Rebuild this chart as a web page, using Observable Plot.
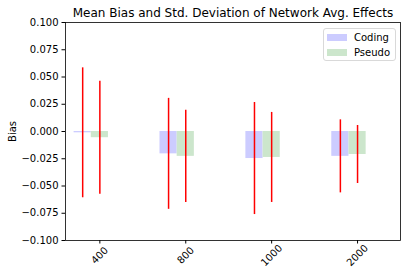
<!DOCTYPE html>
<html>
<head>
<meta charset="utf-8">
<script src="https://cdn.jsdelivr.net/npm/d3@7"></script>
<script src="https://cdn.jsdelivr.net/npm/@observablehq/plot@0.6"></script>
<style>
  html, body { margin: 0; padding: 0; background: #fff; }
  #wrap { position: relative; width: 410px; height: 279px; font-family: "DejaVu Sans", sans-serif; }
  #legend { position: absolute; left: 323px; top: 28px; width: 73px; height: 33px; border: 1px solid #d9d9d9; border-radius: 3px; background: rgba(255,255,255,0.8); font-size: 10px; color: #000; box-sizing: border-box; }
  .li { position: absolute; left: 3px; height: 12px; display: flex; align-items: center; white-space: nowrap; }
  .sw { width: 20px; height: 7px; margin-right: 7px; }
</style>
</head>
<body>
<div id="wrap"></div>
<script>
const categories = ["400", "800", "1000", "2000"];
const codingMean = [-0.0012, -0.0205, -0.0248, -0.0228];
const codingStd  = [0.0596, 0.0509, 0.0514, 0.0335];
const pseudoMean = [-0.0057, -0.0228, -0.0238, -0.0211];
const pseudoStd  = [0.0519, 0.0424, 0.0413, 0.0266];
const yTicks = [-0.1, -0.075, -0.05, -0.025, 0, 0.025, 0.05, 0.075, 0.1];
const seriesNames = ["Coding", "Pseudo"];
const seriesColors = ["#ccccff", "#cce6cc"];

const barWidth = 0.2;
const rows = [];
categories.forEach((c, i) => {
  rows.push({series: "Coding", i, x1: i - 1.5 * barWidth, x2: i - 0.5 * barWidth, xc: i - barWidth, mean: codingMean[i], sd: codingStd[i]});
  rows.push({series: "Pseudo", i, x1: i - 0.5 * barWidth, x2: i + 0.5 * barWidth, xc: i, mean: pseudoMean[i], sd: pseudoStd[i]});
});
const idx = categories.map((c, i) => ({i, label: c}));

const chart = Plot.plot({
  width: 410,
  height: 279,
  marginTop: 22,
  marginBottom: 39,
  marginLeft: 65,
  marginRight: 10,
  style: {fontFamily: "DejaVu Sans, sans-serif", fontSize: "10px", color: "#000", background: "#fff"},
  x: {type: "linear", domain: [-0.4, 3.5], axis: null},
  y: {domain: [-0.1, 0.1], axis: null},
  color: {domain: seriesNames, range: seriesColors},
  marks: [
    Plot.rect(rows, {x1: "x1", x2: "x2", y1: 0, y2: "mean", fill: "series"}),
    Plot.ruleX(rows, {x: "xc", y1: d => d.mean - d.sd, y2: d => d.mean + d.sd, stroke: "red", strokeWidth: 1.5}),
    Plot.frame({stroke: "#000", strokeWidth: 0.8}),
    Plot.axisY(yTicks, {tickSize: 3.5, tickPadding: 3.5, tickFormat: d3.format(".3f"), label: null, fontSize: 10}),
    Plot.axisX(idx.map(d => d.i), {tickSize: 3.5, tickFormat: () => "", label: null}),
    Plot.text(idx, {x: "i", text: "label", frameAnchor: "bottom", dy: 15, rotate: -45, textAnchor: "middle", lineAnchor: "middle", fontSize: 10}),
    Plot.text(["Bias"], {frameAnchor: "left", dx: -53, rotate: -90, textAnchor: "middle", fontSize: 10}),
    Plot.text(["Mean Bias and Std. Deviation of Network Avg. Effects"], {frameAnchor: "top", dy: -9, textAnchor: "middle", lineAnchor: "middle", fontSize: 12})
  ]
});
document.getElementById("wrap").appendChild(chart);

const legend = document.createElement("div");
legend.id = "legend";
seriesNames.forEach((name, k) => {
  const item = document.createElement("div");
  item.className = "li";
  item.style.top = (2 + k * 15) + "px";
  const sw = document.createElement("div");
  sw.className = "sw";
  sw.style.background = seriesColors[k];
  item.appendChild(sw);
  item.appendChild(document.createTextNode(name));
  legend.appendChild(item);
});
document.getElementById("wrap").appendChild(legend);
</script>
</body>
</html>
